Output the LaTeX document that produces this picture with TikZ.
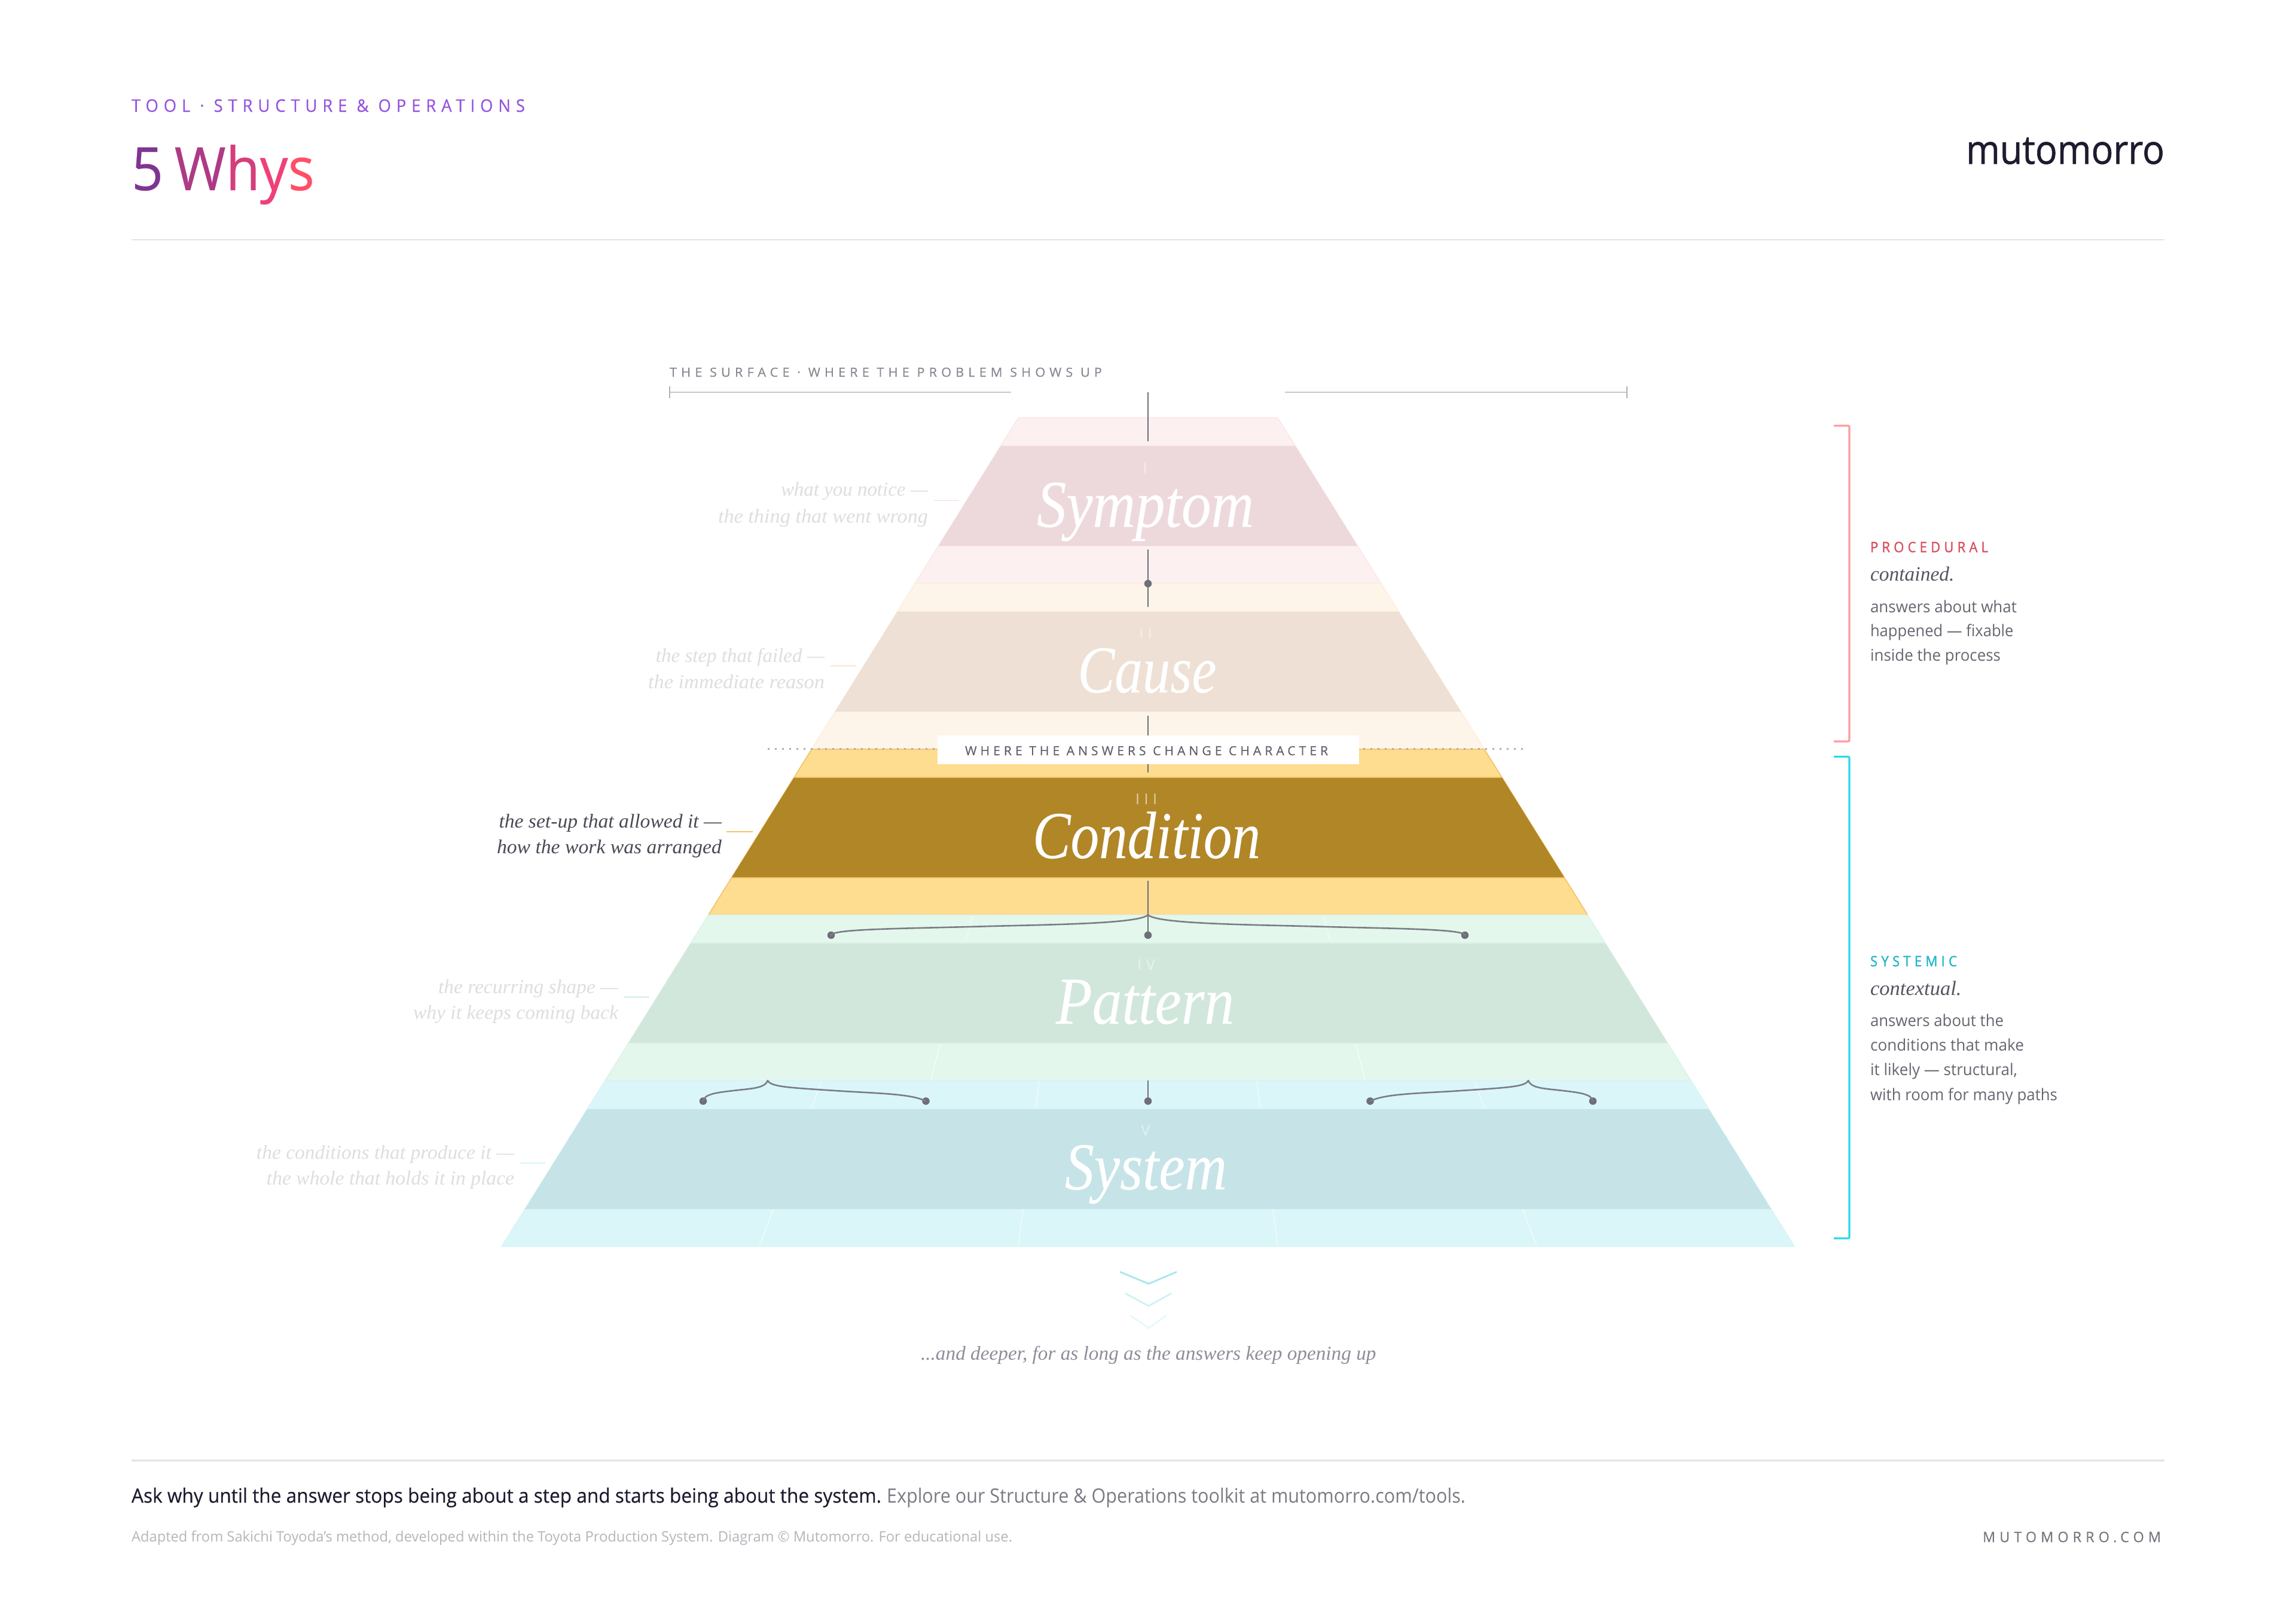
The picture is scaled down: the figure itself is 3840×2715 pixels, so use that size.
\documentclass[tikz,border=0pt]{standalone}
\usepackage{graphicx}
\usepackage{fontspec}
\setmainfont{Open Sans}
\newfontfamily\sansr{Open Sans}
\newfontfamily\sansm{Open Sans}[FakeBold=0.35]
\newfontfamily\sanst{Open Sans}[FakeBold=0.25]
\newfontfamily\sansb{Open Sans}[FakeBold=1.3]
\newfontfamily\sansl{Open Sans}[FakeBold=0.9]
\newfontfamily\seri{Liberation Serif Italic}
\newfontfamily\serb{Liberation Serif Italic}[FakeBold=0.15]
\newcommand{\fitw}[2]{\resizebox{#1pt}{\height}{#2}}
\newcommand{\fsz}[1]{\fontsize{#1}{#1}\selectfont}
\newcommand{\spc}[1]{\addfontfeature{LetterSpace=#1}}
\definecolor{pinkA}{HTML}{FDF0F0}\definecolor{pinkB}{HTML}{EDD9DC}\definecolor{pinkS}{HTML}{FBE8E9}
\definecolor{creamA}{HTML}{FEF5EA}\definecolor{creamB}{HTML}{EEE0D4}\definecolor{creamS}{HTML}{FCEEDD}
\definecolor{amberA}{HTML}{FEDC90}\definecolor{amberB}{HTML}{B18627}\definecolor{amberS}{HTML}{F0C468}
\definecolor{greenA}{HTML}{E4F7EC}\definecolor{greenB}{HTML}{D2E7DB}\definecolor{greenS}{HTML}{DDF3E6}
\definecolor{cyanA}{HTML}{DBF6F9}\definecolor{cyanB}{HTML}{C6E4E7}\definecolor{cyanS}{HTML}{D7F4F7}
\definecolor{inkD}{HTML}{1E1B2E}\definecolor{axisc}{HTML}{6E6E78}\definecolor{bracec}{HTML}{7A7D85}
\definecolor{fadeT}{HTML}{DEDEE1}\definecolor{bodyT}{HTML}{666670}\definecolor{midT}{HTML}{55555F}
\tikzset{
  x=1pt,y=-1pt,
  declare function={hw(\t)=216.5+0.6235*(\t-698);},
  txt/.style={inner sep=0pt,outer sep=0pt},
  tl/.style={txt,anchor=base west},
  tr/.style={txt,anchor=base east},
  axisline/.style={draw=axisc,line width=2pt},
  bracep/.style={draw=bracec,line width=2.6pt,line cap=round},
  tipdot/.style={circle,fill=axisc,inner sep=0pt,outer sep=0pt,minimum size=12.5pt},
  rulegrey/.style={draw=black!11,line width=2.4pt},
  radial/.style={draw=white,line width=1.6pt,opacity=.55},
  bigword/.style={tl,text=white},
  numeral/.style={txt,anchor=base,text=white},
  sideT/.style={tr,text=fadeT},
  tickl/.style={line width=2.4pt},
  brk/.style={line width=3.2pt,rounded corners=2pt},
  chev/.style={line cap=butt,line join=miter},
}
\newcommand{\tierband}[4]{%
  \fill[#2,draw=#4,line width=1.6pt] ({1920-hw(#1)},#1) -- ({1920+hw(#1)},#1) -- ({1920+hw(#1+277.2)},#1+277.2) -- ({1920-hw(#1+277.2)},#1+277.2) -- cycle;
}
\newcommand{\tierdark}[3]{%
  \fill[#2] ({1920-hw(#1+47)},#1+47) -- ({1920+hw(#1+47)},#1+47) -- ({1920+hw(#1+215)},#1+215) -- ({1920-hw(#1+215)},#1+215) -- cycle;
  \draw[#3,line width=1.5pt] ({1920-hw(#1+47)},#1+47) -- ({1920+hw(#1+47)},#1+47) ({1920-hw(#1+215)},#1+215) -- ({1920+hw(#1+215)},#1+215);
}
\begin{document}
\begin{tikzpicture}
\useasboundingbox (0,0) rectangle (3840,2715);
\fill[white] (0,0) rectangle (3840,2715);

% header
\node[tl,text={rgb,255:red,150;green,82;blue,224}] (kicker) at (220,187) {\fitw{658}{\sanst\fsz{29}\spc{32}TOOL · STRUCTURE \& OPERATIONS}};
\node[tl] (title) at (220,318) {\fitw{306}{\sanst\fsz{100}\textcolor[HTML]{7F3590}{5}\hspace{0.2em}\textcolor[HTML]{AE3A86}{W}\textcolor[HTML]{D43E7C}{h}\textcolor[HTML]{F04078}{y}\textcolor[HTML]{FF4F66}{s}}};
\node[tr,text=inkD] (logo) at (3620,274) {\fitw{332}{\sansl\fsz{67}mutomorro}};
\coordinate (hrA) at (220,401); \coordinate (hrB) at (3620,401);
\draw[rulegrey] (hrA) -- (hrB);

% pyramid bands
\tierband{698.5}{pinkA}{pinkB}{pinkS}
\tierband{975.7}{creamA}{creamB}{creamS}
\tierband{1252.9}{amberA}{amberB}{amberS}
\tierband{1530.1}{greenA}{greenB}{greenS}
\tierband{1807.3}{cyanA}{cyanB}{cyanS}
% faint radial lines
\foreach \d in {-1,1}{
  \draw[radial] ({1920+\d*294},1531) -- ({1920+\d*363},1806.5);
  \draw[radial] ({1920+\d*546},1808.5) -- ({1920+\d*650},2084);
  \draw[radial] ({1920+\d*182},1808.5) -- ({1920+\d*217},2084);
}
\tierdark{698.5}{pinkB}{pinkS}
\tierdark{975.7}{creamB}{creamS}
\tierdark{1252.9}{amberB}{amberS}
\tierdark{1530.1}{greenB}{greenS}
\tierdark{1807.3}{cyanB}{cyanS}

% surface bar
\node[tl,text={rgb,255:red,136;green,136;blue,146}] (surface) at (1120,630) {\fitw{723}{\sansm\fsz{21}\spc{32}THE SURFACE · WHERE THE PROBLEM SHOWS UP}};
\coordinate (sLa) at (1120,656); \coordinate (sLb) at (1691,656);
\coordinate (sRa) at (2149,656); \coordinate (sRb) at (2721,656);
\coordinate (sLt) at (1120,646); \coordinate (sLu) at (1120,666);
\coordinate (sRt) at (2721,646); \coordinate (sRu) at (2721,666);
\draw[draw=black!22,line width=2.2pt] (sLa) -- (sLb) (sRa) -- (sRb);
\draw[draw=black!30,line width=1.4pt] (sLt) -- (sLu) (sRt) -- (sRu);

% dotted change line
\coordinate (dA) at (1284,1252.5); \coordinate (dB) at (2547,1252.5);
\draw[draw=black!32,line width=2.6pt,dash pattern=on 3pt off 9pt] (dA) -- (dB);

% axis segments and dots
\coordinate (a1) at (1920,656); \coordinate (a2) at (1920,738);
\draw[axisline] (a1) -- (a2);
\coordinate (a3) at (1920,919); \coordinate (a4) at (1920,1015);
\node[tipdot] (d1) at (1920,976) {};
\draw[axisline] (a3) -- (a4);
\coordinate (a5) at (1920,1197); \coordinate (a6) at (1920,1292);
\draw[axisline] (a5) -- (a6);
\coordinate (a7) at (1920,1473);
\node[tipdot] (d2) at (1920,1564) {};
\draw[axisline] (a7) -- (d2.center);
\coordinate (a8) at (1920,1807);
\node[tipdot] (d3) at (1920,1841.5) {};
\draw[axisline] (a8) -- (d3.center);

% branching braces
\coordinate (b0) at (1920,1530);
\node[tipdot] (bl) at (1390,1564) {};
\node[tipdot] (br) at (2450,1564) {};
\draw[bracep] (b0) .. controls (1905,1544) and (1780,1546) .. (1655,1549) .. controls (1520,1553) and (1392,1553) .. (bl.center);
\draw[bracep] (b0) .. controls (1935,1544) and (2060,1546) .. (2185,1549) .. controls (2320,1553) and (2448,1553) .. (br.center);
\coordinate (c0) at (1284,1807);
\node[tipdot] (cl) at (1176,1841.5) {};
\node[tipdot] (cr) at (1548.5,1841.5) {};
\draw[bracep] (c0) .. controls (1280,1818) and (1265,1820) .. (1235,1823) .. controls (1200,1827) and (1178,1829) .. (cl.center);
\draw[bracep] (c0) .. controls (1289,1818) and (1320,1819) .. (1412,1825) .. controls (1480,1829) and (1525,1830) .. (cr.center);
\coordinate (e0) at (2556,1807);
\node[tipdot] (el) at (2291.5,1841.5) {};
\node[tipdot] (er) at (2664,1841.5) {};
\draw[bracep] (e0) .. controls (2560,1818) and (2575,1820) .. (2605,1823) .. controls (2640,1827) and (2662,1829) .. (er.center);
\draw[bracep] (e0) .. controls (2551,1818) and (2520,1819) .. (2428,1825) .. controls (2360,1829) and (2315,1830) .. (el.center);

% change label
\node[fill=white,minimum width=705pt,minimum height=48pt,inner sep=0pt] (chgbox) at (1920.5,1253.5) {};
\node[tl,text={rgb,255:red,96;green,96;blue,108}] (chg) at (1614,1263) {\fitw{607}{\sansm\fsz{21}\spc{28}WHERE THE ANSWERS CHANGE CHARACTER}};

% numerals
\node[numeral,text=white!50!pinkB] (n1) at (1915,791) {\sansr\fsz{25}I};
\node[numeral,text=white!50!creamB] (n2) at (1916,1068) {\sansr\fsz{25}\spc{30}II};
\node[numeral,text=white!60!amberB] (n3) at (1917,1345) {\sansr\fsz{25}\spc{30}III};
\node[numeral,text=white!50!greenB] (n4) at (1917,1622) {\sansr\fsz{25}\spc{30}IV};
\node[numeral,text=white!50!cyanB] (n5) at (1916,1899) {\sansr\fsz{25}V};

% tier names
\node[bigword] (w1) at (1734,881) {\fitw{363}{\serb\fsz{112}Symptom}};
\node[bigword] (w2) at (1802.5,1158) {\fitw{232}{\serb\fsz{112}Cause}};
\node[bigword] (w3) at (1727,1435) {\fitw{381}{\serb\fsz{112}Condition}};
\node[bigword] (w4) at (1766,1712) {\fitw{298}{\serb\fsz{112}Pattern}};
\node[bigword] (w5) at (1781,1989) {\fitw{271}{\serb\fsz{112}System}};

% side notes
\node[sideT] (s1a) at (1552,829.5) {\fitw{246}{\seri\fsz{33}what you notice —}};
\node[sideT] (s1b) at (1552,874) {\fitw{351}{\seri\fsz{33}the thing that went wrong}};
\coordinate (t1a) at (1561.5,837); \coordinate (t1b) at (1604,837);
\draw[tickl,draw=pinkS] (t1a) -- (t1b);
\node[sideT] (s2a) at (1379,1107) {\fitw{282}{\seri\fsz{33}the step that failed —}};
\node[sideT] (s2b) at (1379,1151) {\fitw{295}{\seri\fsz{33}the immediate reason}};
\coordinate (t2a) at (1388.5,1113.5); \coordinate (t2b) at (1432,1113.5);
\draw[tickl,draw=creamS] (t2a) -- (t2b);
\node[tr,text={rgb,255:red,74;green,74;blue,86}] (s3a) at (1207,1384) {\fitw{372.5}{\seri\fsz{33}the set-up that allowed it —}};
\node[tr,text={rgb,255:red,74;green,74;blue,86}] (s3b) at (1207,1427) {\fitw{376}{\seri\fsz{33}how the work was arranged}};
\coordinate (t3a) at (1215,1391); \coordinate (t3b) at (1259,1391);
\draw[tickl,draw=amberS] (t3a) -- (t3b);
\node[sideT] (s4a) at (1034,1661) {\fitw{301}{\seri\fsz{33}the recurring shape —}};
\node[sideT] (s4b) at (1034,1704) {\fitw{343}{\seri\fsz{33}why it keeps coming back}};
\coordinate (t4a) at (1042.5,1667.5); \coordinate (t4b) at (1086,1667.5);
\draw[tickl,draw=greenS] (t4a) -- (t4b);
\node[sideT] (s5a) at (860,1938) {\fitw{431}{\seri\fsz{33}the conditions that produce it —}};
\node[sideT] (s5b) at (860,1981) {\fitw{414}{\seri\fsz{33}the whole that holds it in place}};
\coordinate (t5a) at (869.5,1945); \coordinate (t5b) at (912,1945);
\draw[tickl,draw=cyanS] (t5a) -- (t5b);

% right brackets
\coordinate (p1) at (3067,712); \coordinate (p2) at (3093,712); \coordinate (p3) at (3093,1240); \coordinate (p4) at (3067,1240);
\draw[brk,draw={rgb,255:red,255;green,154;blue,162}] (p1) -- (p2) -- (p3) -- (p4);
\coordinate (q1) at (3067,1265.5); \coordinate (q2) at (3093,1265.5); \coordinate (q3) at (3093,2071); \coordinate (q4) at (3067,2071);
\draw[brk,draw={rgb,255:red,43;green,217;blue,232}] (q1) -- (q2) -- (q3) -- (q4);

% right notes: procedural
\node[tl,text={rgb,255:red,217;green,80;blue,95}] (pr0) at (3128,923.5) {\fitw{197}{\sansb\fsz{24}\spc{28}PROCEDURAL}};
\node[tl,text=midT] (pr1) at (3128,971) {\fitw{140.5}{\seri\fsz{34}contained.}};
\node[tl,text=bodyT] (pr2) at (3128,1024) {\fitw{245}{\sansr\fsz{27}answers about what}};
\node[tl,text=bodyT] (pr3) at (3128,1064.5) {\fitw{239.5}{\sansr\fsz{27}happened — fixable}};
\node[tl,text=bodyT] (pr4) at (3128,1105.5) {\fitw{218}{\sansr\fsz{27}inside the process}};
% right notes: systemic
\node[tl,text={rgb,255:red,31;green,181;blue,201}] (sy0) at (3128,1616) {\fitw{145}{\sansb\fsz{24}\spc{28}SYSTEMIC}};
\node[tl,text=midT] (sy1) at (3128,1664) {\fitw{152.5}{\seri\fsz{34}contextual.}};
\node[tl,text=bodyT] (sy2) at (3128,1716) {\fitw{223}{\sansr\fsz{27}answers about the}};
\node[tl,text=bodyT] (sy3) at (3128,1757.5) {\fitw{257}{\sansr\fsz{27}conditions that make}};
\node[tl,text=bodyT] (sy4) at (3128,1798.5) {\fitw{246}{\sansr\fsz{27}it likely — structural,}};
\node[tl,text=bodyT] (sy5) at (3128,1840) {\fitw{313}{\sansr\fsz{27}with room for many paths}};

% deeper chevrons
\coordinate (v1a) at (1873,2127); \coordinate (v1b) at (1921,2147); \coordinate (v1c) at (1968,2127);
\draw[chev,line width=2.8pt,draw={rgb,255:red,168;green,230;blue,236}] (v1a) -- (v1b) -- (v1c);
\coordinate (v2a) at (1882,2163); \coordinate (v2b) at (1921,2184); \coordinate (v2c) at (1959,2163);
\draw[chev,line width=2.6pt,draw={rgb,255:red,203;green,241;blue,245}] (v2a) -- (v2b) -- (v2c);
\coordinate (v3a) at (1890.5,2200); \coordinate (v3b) at (1921,2221); \coordinate (v3c) at (1950.5,2200);
\draw[chev,line width=2.4pt,draw={rgb,255:red,226;green,248;blue,250}] (v3a) -- (v3b) -- (v3c);
\node[tl,text={rgb,255:red,142;green,142;blue,153}] (deep) at (1540,2274) {\fitw{761.5}{\seri\fsz{33}...and deeper, for as long as the answers keep opening up}};

% footer
\coordinate (frA) at (220,2442.5); \coordinate (frB) at (3620,2442.5);
\draw[rulegrey] (frA) -- (frB);
\node[tl,text=inkD] (foot1) at (220,2513) {\fitw{1254}{\sansm\fsz{33}Ask why until the answer stops being about a step and starts being about the system.}};
\node[tl,text={rgb,255:red,122;green,122;blue,133}] (foot2) at (1483,2513) {\fitw{968}{\sansr\fsz{33}Explore our Structure \& Operations toolkit at mutomorro.com/tools.}};
\node[tl,text={rgb,255:red,181;green,181;blue,188}] (fine) at (220,2578) {\fitw{1473}{\sansr\fsz{24}Adapted from Sakichi Toyoda’s method, developed within the Toyota Production System. Diagram © Mutomorro. For educational use.}};
\node[tr,text={rgb,255:red,119;green,119;blue,128}] (site) at (3614,2579) {\fitw{298}{\sansm\fsz{24}\spc{30}MUTOMORRO.COM}};
\end{tikzpicture}
\end{document}
